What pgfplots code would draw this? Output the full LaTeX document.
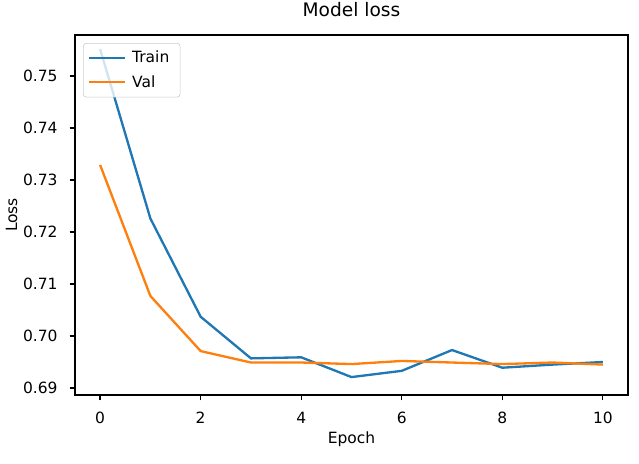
\documentclass[border=0pt]{standalone}
\usepackage{pgfplots}
\pgfplotsset{compat=1.18}
\usepackage{fontspec}
\setmainfont{DejaVu Sans}
\definecolor{tabblue}{HTML}{1F77B4}
\definecolor{taborange}{HTML}{FF7F0E}
\begin{document}
\begin{tikzpicture}
\path[use as bounding box] (-48.4pt,-43.9pt) rectangle (364.1pt,255.0pt);
\begin{axis}[
  at={(0,0)}, anchor=south west,
  scale only axis,
  width=357.0pt, height=232.4pt,
  xmin=-0.5, xmax=10.5,
  ymin=0.68865, ymax=0.7579,
  xtick={0,2,4,6,8,10},
  ytick={0.69,0.70,0.71,0.72,0.73,0.74,0.75},
  yticklabel style={/pgf/number format/fixed, /pgf/number format/precision=2, /pgf/number format/fixed zerofill},
  /pgf/number format/assume math mode=true,
  tick align=outside,
  major tick length=3.5pt,
  tick style={line width=0.8pt, black},
  axis line style={line width=0.8pt},
  xtick pos=bottom, ytick pos=left,
  tick label style={font=\fontsize{10}{12}\selectfont},
  xticklabel style={yshift=-4.2pt},
  yticklabel style={xshift=-4.2pt},
  title={Model loss},
  title style={font=\fontsize{12}{14}\selectfont, at={(0.5,1)}, anchor=base, yshift=6pt},
  xlabel={Epoch},
  xlabel style={font=\fontsize{10}{12}\selectfont, at={(0.5,0)}, anchor=base, yshift=-31pt},
  ylabel={Loss},
  ylabel style={font=\fontsize{10}{12}\selectfont, at={([xshift=-37.4pt]axis description cs:0,0.5)}, anchor=base},
  legend cell align=left,
  legend image code/.code={\draw[#1] (0pt,0pt) -- (23pt,0pt);},
  legend style={at={(0,1)}, anchor=north west, xshift=5.2pt, yshift=-5.2pt,
    draw=black!20, rounded corners=2pt, fill=white, fill opacity=0.8, text opacity=1,
    font=\fontsize{10}{12}\selectfont, inner xsep=3pt, inner ysep=4pt, row sep=4.5pt,
    nodes={inner xsep=4pt, inner ysep=1pt}},
]
\addplot[tabblue, line width=1.5pt] coordinates {
(0,0.7552) (1,0.7226) (2,0.7037) (3,0.6957) (4,0.6959) (5,0.6921)
(6,0.6933) (7,0.6973) (8,0.6939) (9,0.6945) (10,0.6950)};
\addlegendentry{Train}
\addplot[taborange, line width=1.5pt] coordinates {
(0,0.7329) (1,0.7077) (2,0.6971) (3,0.6949) (4,0.6949) (5,0.6946)
(6,0.6952) (7,0.6949) (8,0.6946) (9,0.6949) (10,0.6945)};
\addlegendentry{Val}
\end{axis}
\end{tikzpicture}
\end{document}
